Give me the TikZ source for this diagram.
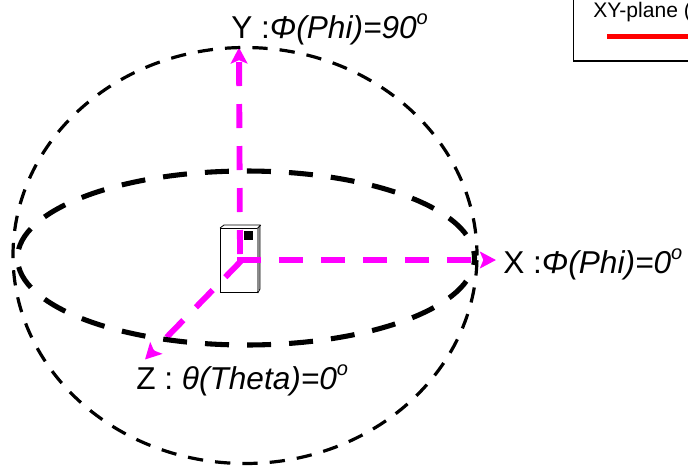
\documentclass[tikz,border=0pt]{standalone}
\usepackage{fontspec}
\setmainfont{Liberation Sans}
\usetikzlibrary{arrows.meta}
\definecolor{axiscol}{RGB}{255,0,255}
\newcommand{\degmark}{\raisebox{10.5pt}{\fontsize{15pt}{15pt}\selectfont\textit{o}}}
\tikzset{
  big/.style={font=\fontsize{23.7pt}{26pt}\selectfont,anchor=base west,inner sep=0pt,text=black},
  legendtext/.style={font=\fontsize{15.8pt}{18pt}\selectfont,anchor=base west,inner sep=0pt,text=black},
  sphere/.style={draw=black,line width=2.4pt,dash pattern=on 11.5pt off 9.03pt,dash phase=16.98pt},
  plane/.style={draw=black,line width=3.8pt,dash pattern=on 18pt off 13.55pt,dash phase=12.77pt},
  axis/.style={draw=axiscol,line width=4.4pt,dash pattern=on 18pt off 13.5pt,-{Stealth[length=12pt,width=12.5pt,inset=2.5pt,color=axiscol]}},
}
\begin{document}
\begin{tikzpicture}[x=0.75pt,y=-0.75pt]
\useasboundingbox (0,0) rectangle (688,465);
\clip (0,0) rectangle (688,465);
\coordinate (cx) at (237,260);
\coordinate (cy) at (240,254);
\coordinate (cz) at (242,260);
\coordinate (xe) at (496,260);
\coordinate (ye) at (239,47.5);
\coordinate (ze) at (145,359.5);
% device
\node[draw=black,fill=white,line width=0.8pt,minimum width=27.5pt,minimum height=48pt,inner sep=0pt,anchor=north west] (dev) at (220,228) {};
\fill[black!45] (257,229) -- (259.5,226.5) -- (259.5,289) -- (257,292) -- cycle;
\draw[black,line width=0.6pt] (dev.north west) -- ++(4,-3) -- ++(36,0) -- ++(0,64) -- (dev.south east);
\draw[black,line width=0.6pt] (dev.north east) -- ++(3,-3);
\node[fill=black,minimum size=6.4pt,inner sep=0pt,anchor=north west] (sq) at (244,231) {};
% axes
\draw[axis] (cx) -- (xe);
\draw[axis] (cy) -- (ye);
\draw[axis] (cz) -- (ze);
% sphere and plane
\draw[sphere] (245,255.5) ellipse [x radius=232,y radius=208];
\draw[plane] (246,258) ellipse [x radius=228.5,y radius=87];
% labels
\node[big] (ly) at (231,38) {Y :\textit{Φ(Phi)=90}\degmark};
\node[big] (lx) at (503,273) {X :\textit{Φ(Phi)=0}\degmark};
\node[big] (lz) at (136,389) {Z : \textit{θ(Theta)=0}\degmark};
% legend
\node[draw=black,line width=1.1pt,minimum width=150pt,minimum height=60pt,anchor=south west,inner sep=0pt] (lg) at (573,61.5) {};
\node[legendtext] (lt) at (593,17) {XY-plane (};
\coordinate (r1) at (607,36);
\coordinate (r2) at (700,36);
\draw[red,line width=3.75pt] (r1) -- (r2);
\end{tikzpicture}
\end{document}
